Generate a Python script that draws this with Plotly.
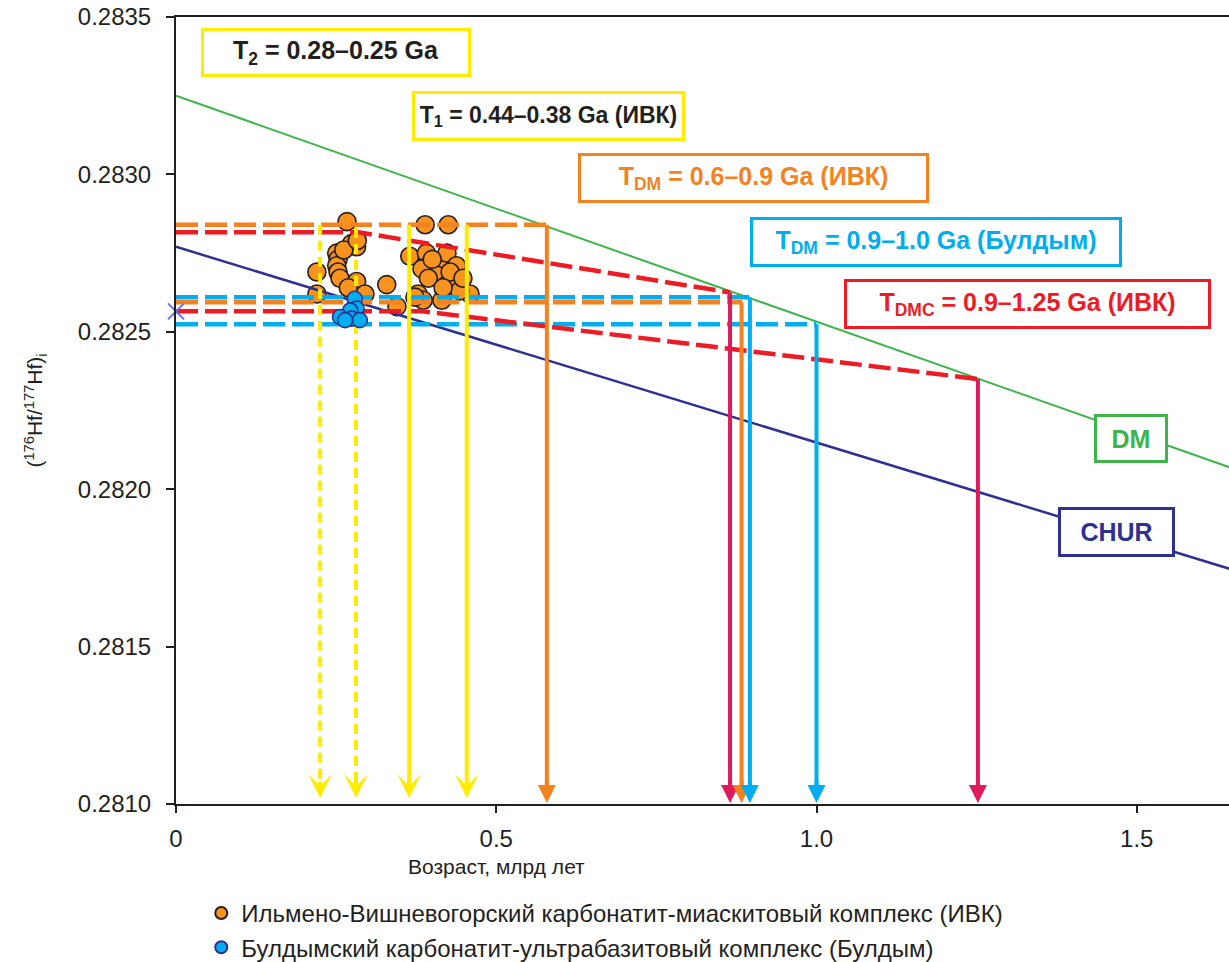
import plotly.graph_objects as go

# ---------------- data ----------------
# Ilmeno-Vishnevogorsky complex (age, Ga ; initial 176Hf/177Hf)
ivk_age = [0.267, 0.389, 0.425, 0.274, 0.282, 0.251, 0.253, 0.251, 0.253, 0.220,
           0.256, 0.282, 0.269, 0.220, 0.295, 0.329, 0.365, 0.391, 0.410, 0.423,
           0.394, 0.384, 0.407, 0.394, 0.433, 0.423, 0.378, 0.459, 0.386, 0.415,
           0.345, 0.373, 0.443, 0.438, 0.262, 0.283, 0.400, 0.428, 0.448, 0.417]
ivk_hf = [0.28285, 0.28284, 0.28284, 0.28278, 0.28277, 0.28275, 0.28273, 0.28271, 0.28269, 0.28269,
          0.28267, 0.28266, 0.28264, 0.28262, 0.28262, 0.28265, 0.28274, 0.28275, 0.28272, 0.28275,
          0.28271, 0.28270, 0.28268, 0.28267, 0.28266, 0.28265, 0.28262, 0.28262, 0.28260, 0.28260,
          0.28258, 0.28261, 0.28263, 0.28271, 0.28276, 0.28279, 0.28273, 0.28269, 0.28267, 0.28264]
# Buldym complex
buld_age = [0.279, 0.282, 0.272, 0.256, 0.274, 0.287, 0.264]
buld_hf = [0.282605, 0.282574, 0.282568, 0.282547, 0.282542, 0.282537, 0.282537]

# reference evolution lines
dm_age = [0.0, 1.7]
dm_hf = [0.28325, 0.28203]
chur_age = [0.0, 1.7]
chur_hf = [0.28277, 0.281713]

# model-age construction lines
orange_top_age = [0.0, 0.579]
orange_top_hf = [0.28284, 0.28284]
orange_bot_age = [0.0, 0.884]
orange_bot_hf = [0.282594, 0.282594]
cyan_top_age = [0.0, 0.896]
cyan_top_hf = [0.28261, 0.28261]
cyan_bot_age = [0.0, 1.0]
cyan_bot_hf = [0.282524, 0.282524]
red_top_age = [0.0, 0.285, 0.865]
red_top_hf = [0.282816, 0.282816, 0.282625]
red_bot_age = [0.0, 0.385, 1.252]
red_bot_hf = [0.282565, 0.282565, 0.282350]
cross_age = [0.0]
cross_hf = [0.282565]

# vertical age arrows: age, starting ratio, kind
arrow_age = [0.225, 0.281, 0.364, 0.454, 0.579, 0.865, 0.883, 0.896, 1.0, 1.252]
arrow_top = [0.28284, 0.28283, 0.28284, 0.28284, 0.28284, 0.282625, 0.282594, 0.28261, 0.282524, 0.28235]
arrow_kind = ["yd", "yd", "y", "y", "o", "m", "o", "c", "c", "m"]

y_min, y_max = 0.2810, 0.2835
x_min, x_max = 0.0, 1.644

xtick_vals = [0, 0.5, 1.0, 1.5]
xtick_text = ["0", "0.5", "1.0", "1.5"]
ytick_vals = [0.2810, 0.2815, 0.2820, 0.2825, 0.2830, 0.2835]
ytick_text = ["0.2810", "0.2815", "0.2820", "0.2825", "0.2830", "0.2835"]

# ---------------- style ----------------
ORANGE = "#F7931E"
ORANGE_L = "#F58220"
RED = "#ED1C24"
MAGENTA = "#E0195A"
CYAN = "#00AEEF"
YELLOW = "#FFEC00"
GREEN = "#3DB54A"
INDIGO = "#2E3192"
BLACK = "#231F20"
SANS = "Liberation Sans, Arial, Helvetica, sans-serif"
NARROW = "Liberation Sans Narrow, Arial Narrow, Liberation Sans, Arial, sans-serif"

fig = go.Figure()

fig.add_trace(go.Scatter(
    x=ivk_age, y=ivk_hf, mode="markers",
    name="Ильмено-Вишневогорский карбонатит-миаскитовый комплекс (ИВК)",
    marker=dict(size=18, color=ORANGE, line=dict(color=BLACK, width=1.6))))

fig.add_trace(go.Scatter(x=dm_age, y=dm_hf, mode="lines", showlegend=False,
                         line=dict(color=GREEN, width=2), hoverinfo="skip"))
fig.add_trace(go.Scatter(x=chur_age, y=chur_hf, mode="lines", showlegend=False,
                         line=dict(color=INDIGO, width=2.5), hoverinfo="skip"))

dash = "22px,7px"
for xs, ys, col in [(orange_top_age, orange_top_hf, ORANGE_L),
                    (orange_bot_age, orange_bot_hf, ORANGE_L),
                    (cyan_top_age, cyan_top_hf, CYAN),
                    (cyan_bot_age, cyan_bot_hf, CYAN),
                    (red_top_age, red_top_hf, RED),
                    (red_bot_age, red_bot_hf, RED)]:
    fig.add_trace(go.Scatter(x=xs, y=ys, mode="lines", showlegend=False, hoverinfo="skip",
                             line=dict(color=col, width=4.5, dash=dash)))

kind_style = {
    "yd": (YELLOW, "10px,6px", 3, 1.0),
    "y": (YELLOW, "solid", 3, 1.0),
    "o": (ORANGE_L, "solid", 2, 0.9),
    "m": (MAGENTA, "solid", 2, 0.9),
    "c": (CYAN, "solid", 2, 0.9),
}
for xa, yt, k in zip(arrow_age, arrow_top, arrow_kind):
    col, dsh, head, hsize = kind_style[k]
    fig.add_trace(go.Scatter(x=[xa, xa], y=[yt, y_min + 0.00004], mode="lines",
                             showlegend=False, hoverinfo="skip",
                             line=dict(color=col, width=4, dash=dsh)))
    fig.add_annotation(x=xa, y=y_min, xref="x", yref="y", ax=0, ay=-24,
                       showarrow=True, arrowhead=head, arrowsize=hsize, arrowwidth=4,
                       arrowcolor=col, standoff=6 if k.startswith("y") else 1, text="")

# Buldym points drawn on top of the construction lines
fig.add_trace(go.Scatter(
    x=buld_age, y=buld_hf, mode="markers",
    name="Булдымский карбонатит-ультрабазитовый комплекс (Булдым)",
    marker=dict(size=15, color=CYAN, line=dict(color=INDIGO, width=1.6))))

fig.add_trace(go.Scatter(x=cross_age, y=cross_hf, mode="markers", showlegend=False,
                         cliponaxis=False, hoverinfo="skip",
                         marker=dict(symbol="x-thin-open", size=16,
                                     line=dict(color=INDIGO, width=2))))

# ---------------- labels ----------------
boxes = [
    (0.250, 0.283387, "T<sub>2</sub> = 0.28–0.25 Ga", BLACK, YELLOW, 264, 43, 25),
    (0.581, 0.283184, "T<sub>1</sub> = 0.44–0.38 Ga (ИВК)", BLACK, YELLOW, 267, 44, 23),
    (0.902, 0.282987, "T<sub>DM</sub> = 0.6–0.9 Ga (ИВК)", ORANGE_L, ORANGE_L, 345, 44, 25),
    (1.187, 0.282784, "T<sub>DM</sub> = 0.9–1.0 Ga (Булдым)", CYAN, CYAN, 366, 44, 25),
    (1.330, 0.282587, "T<sub>DMC</sub> = 0.9–1.25 Ga (ИВК)", RED, RED, 361, 44, 25),
    (1.491, 0.282162, "DM", GREEN, GREEN, 68, 43, 25),
    (1.468, 0.281863, "CHUR", INDIGO, INDIGO, 111, 44, 25),
]
for bx, by, txt, tcol, bcol, w, h, fs in boxes:
    fig.add_annotation(x=bx, y=by, xref="x", yref="y", text="<b>" + txt + "</b>",
                       showarrow=False, width=w, height=h, align="center", valign="middle",
                       bgcolor="white", bordercolor=bcol, borderwidth=3, borderpad=0,
                       font=dict(family=NARROW, size=fs, color=tcol))

# x-axis title (centred under 0.5 as in the original)
fig.add_annotation(x=0.5, y=-0.0788, xref="x", yref="paper", text="Возраст, млрд лет",
                   showarrow=False, xanchor="center", yanchor="middle",
                   font=dict(family=SANS, size=21, color=BLACK))

fig.update_layout(
    width=1229, height=962,
    margin=dict(l=176, r=0, t=17, b=158, autoexpand=False),
    paper_bgcolor="white", plot_bgcolor="white",
    showlegend=True,
    legend=dict(x=0.024, y=-0.1105, xanchor="left", yanchor="top",
                font=dict(family=SANS, size=24, color=BLACK),
                bgcolor="rgba(0,0,0,0)", itemsizing="constant",
                tracegroupgap=0),
    font=dict(family=SANS, color=BLACK),
)
fig.update_xaxes(range=[x_min, x_max], tickvals=xtick_vals, ticktext=xtick_text,
                 automargin=False,
                 showgrid=False, zeroline=False, showline=True, linecolor=BLACK, linewidth=2,
                 mirror=True, ticks="outside", ticklen=7, tickwidth=2, tickcolor=BLACK,
                 ticklabelstandoff=5,
                 tickfont=dict(family=SANS, size=24, color=BLACK))
fig.update_yaxes(range=[y_min, y_max], tickvals=ytick_vals, ticktext=ytick_text,
                 automargin=False,
                 showgrid=False, zeroline=False, showline=True, linecolor=BLACK, linewidth=2,
                 ticks="outside", ticklen=8, tickwidth=2, tickcolor=BLACK,
                 tickfont=dict(family=SANS, size=24, color=BLACK),
                 ticklabelstandoff=10,
                 title=dict(text="(<sup>176</sup>Hf/<sup>177</sup>Hf)<sub>i</sub>",
                            font=dict(family=SANS, size=21, color=BLACK), standoff=29))

fig.write_html("out.html", config={"displayModeBar": False},
               post_script="document.body.style.margin='0';document.body.style.padding='0';")
